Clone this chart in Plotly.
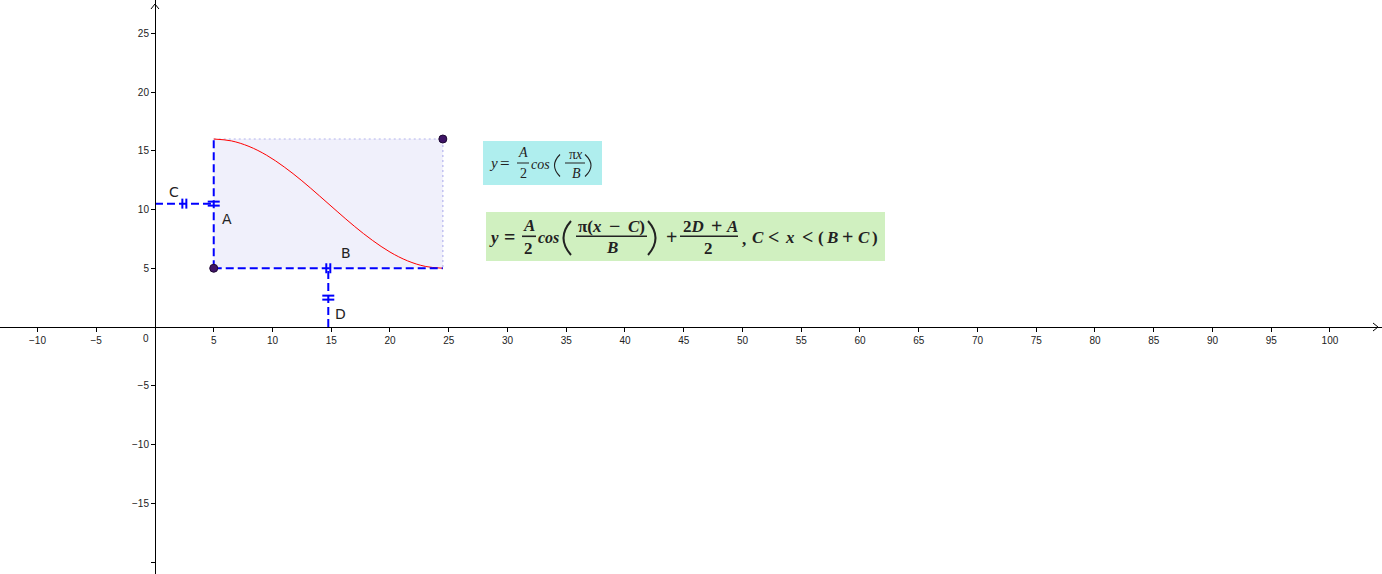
import plotly.graph_objects as go

W, H = 1382, 574

# ---- data ----
A_len = 11.0      # vertical segment A (height of rectangle)
B_len = 19.5      # horizontal segment B (width of rectangle)
C_off = 5.0       # horizontal offset C
D_off = 5.0       # vertical offset D

curve_x = [5, 6.5, 8, 9.5, 11, 12.5, 14, 15.5, 17, 18.5, 20, 21.5, 23, 24.5]
curve_y = [16.0, 15.84, 15.37, 14.62, 13.62, 12.45, 11.16, 9.84, 8.55, 7.38, 6.38, 5.63, 5.16, 5.0]

point_x = [5, 24.5]
point_y = [5, 16]

x_ticks = [-10, -5, 5, 10, 15, 20, 25, 30, 35, 40, 45, 50, 55, 60, 65, 70, 75, 80, 85, 90, 95, 100]
x_tick_text = [("\u2212" + str(-v)) if v < 0 else str(v) for v in x_ticks]
y_ticks = [-20, -15, -10, -5, 5, 10, 15, 20, 25]
y_tick_text = ["", "\u221215", "\u221210", "\u22125", "5", "10", "15", "20", "25"]

seg_labels = ["C", "A", "B", "D"]
label_x = [1.62, 6.13, 16.26, 15.83]
label_y = [11.45, 9.2, 6.3, 1.15]

x_range = [-13.19, 104.43]
y_range = [-21.02, 27.83]

# ---- derived geometry ----
x_left = C_off
x_right = C_off + B_len
y_bot = D_off
y_top = D_off + A_len
y_mid = D_off + A_len / 2
x_mid = C_off + B_len / 2

BLUE = "#0000ff"
DASH = "8px,4px"
INK = "#222222"

fig = go.Figure()

# dotted outline (top and right) of the shaded rectangle
fig.add_trace(go.Scatter(x=[x_left, x_right, x_right], y=[y_top, y_top, y_bot], mode="lines",
                         line=dict(color="#b4b4ee", width=1.2, dash="2px,3px"), hoverinfo="skip"))

# red cosine curve
fig.add_trace(go.Scatter(x=curve_x, y=curve_y, mode="lines",
                         line=dict(color="#ff0000", width=1, shape="spline", smoothing=1), hoverinfo="skip"))

# blue dashed segments C, A, B, D
seg_defs = [
    ([0, x_left], [y_mid, y_mid]),
    ([x_left, x_left], [y_bot, y_top]),
    ([x_left, x_right], [y_bot, y_bot]),
    ([x_mid, x_mid], [0, y_bot]),
]
for sx, sy in seg_defs:
    fig.add_trace(go.Scatter(x=sx, y=sy, mode="lines",
                             line=dict(color=BLUE, width=2, dash=DASH), hoverinfo="skip"))

# points
fig.add_trace(go.Scatter(x=point_x, y=point_y, mode="markers",
                         marker=dict(size=8, color="#3f1466", line=dict(color="#1e0933", width=1)),
                         hoverinfo="skip"))

shapes = []
# shaded rectangle
shapes.append(dict(type="rect", xref="x", yref="y", x0=x_left, x1=x_right, y0=y_bot, y1=y_top,
                   fillcolor="#f0f0fb", line=dict(width=0), layer="below"))

# equal-length tick decorations (double bars) at segment midpoints
def vbars(xc, yc):
    for d in (-2, 2):
        shapes.append(dict(type="line", xref="x", yref="y", xsizemode="pixel", ysizemode="pixel",
                           xanchor=xc, yanchor=yc, x0=d, x1=d, y0=-5, y1=5,
                           line=dict(color=BLUE, width=2)))

def hbars(xc, yc):
    for d in (-2, 2):
        shapes.append(dict(type="line", xref="x", yref="y", xsizemode="pixel", ysizemode="pixel",
                           xanchor=xc, yanchor=yc, x0=-6, x1=6, y0=d, y1=d,
                           line=dict(color=BLUE, width=2)))

vbars(x_left / 2, y_mid)       # C
hbars(x_left, y_mid)           # A
vbars(x_mid, y_bot)            # B
hbars(x_mid, y_bot / 2)        # D

# axis arrow heads
shapes.append(dict(type="path", xref="x", yref="y", xsizemode="pixel", ysizemode="pixel",
                   xanchor=104.09, yanchor=0, path="M -5,-4 L 0,0 L -5,4",
                   line=dict(color="black", width=1)))
shapes.append(dict(type="path", xref="x", yref="y", xsizemode="pixel", ysizemode="pixel",
                   xanchor=0, yanchor=27.49, path="M -4,-5 L 0,0 L 4,-5",
                   line=dict(color="black", width=1)))

annotations = []
for t, lx, ly in zip(seg_labels, label_x, label_y):
    annotations.append(dict(x=lx, y=ly, xref="x", yref="y", text=t, showarrow=False,
                            font=dict(family="DejaVu Sans", size=14, color=INK)))
annotations.append(dict(x=0, y=0, xref="x", yref="y", text="0", showarrow=False,
                        xshift=-9, yshift=-11, font=dict(family="Liberation Sans", size=10, color=INK)))

# ---- formula boxes (math typeset piece by piece, positions in pixels of the page) ----
def fx(p):
    return p / W

def fy(p):
    return 1 - p / H

def box(x0, x1, y0, y1, color):
    shapes.append(dict(type="rect", xref="paper", yref="paper", x0=fx(x0), x1=fx(x1),
                       y0=fy(y1), y1=fy(y0), fillcolor=color, line=dict(width=0), layer="below"))

def bar(x0, x1, yp, w=1.0):
    shapes.append(dict(type="line", xref="paper", yref="paper", x0=fx(x0), x1=fx(x1),
                       y0=fy(yp), y1=fy(yp), line=dict(color=INK, width=w)))

def paren(xa, xb, y0, y1, w=1.0):
    # curved bracket from (xa, y0) bulging to xb and back to (xa, y1)
    ym = (y0 + y1) / 2
    path = "M %.5f,%.5f Q %.5f,%.5f %.5f,%.5f" % (fx(xa), fy(y0), fx(xb), fy(ym), fx(xa), fy(y1))
    shapes.append(dict(type="path", xref="paper", yref="paper", path=path,
                       line=dict(color=INK, width=w)))

def txt(xp, yp, text, size=14, bold=False, italic=False):
    if italic:
        text = "<i>" + text + "</i>"
    if bold:
        text = "<b>" + text + "</b>"
    annotations.append(dict(xref="paper", yref="paper", x=fx(xp), y=fy(yp), text=text,
                            showarrow=False, xanchor="center", yanchor="middle",
                            font=dict(family="Liberation Serif", size=size, color=INK)))

# formula 1
box(483, 602, 141, 185, "#afeeee")
txt(493, 163, "y", 15, italic=True)
txt(505, 163, "=", 17)
txt(523, 152, "A", 14, italic=True)
bar(517, 529, 163)
txt(523.5, 173.5, "2", 14)
txt(540, 164, "cos", 14, italic=True)
paren(560, 549, 154.5, 176.5, 1.1)
txt(575.5, 154, "π<i>x</i>", 14)
bar(565, 585, 163)
txt(576, 173, "B", 14, italic=True)
paren(585, 597, 154.5, 176.5, 1.1)

# formula 2
box(486, 885, 212, 261, "#d0f0c0")
S2 = 17
OP = 20
txt(494.5, 237, "y", S2, True, True)
txt(509, 237, "=", OP, True)
txt(529, 225, "A", S2, True, True)
bar(522, 536, 236.3, 1.6)
txt(528, 248, "2", S2, True)
txt(548, 237, "cos", 16, True, True)
paren(571, 556, 221, 255, 2)
txt(589.5, 226, "π(<i>x</i>", S2, True)
txt(614, 226, "−", OP, True)
txt(636, 226, "<i>C</i>)", S2, True)
bar(576, 647, 236.3, 1.6)
txt(611.5, 247, "B", S2, True, True)
paren(648, 663, 221, 255, 2)
txt(671.5, 237, "+", OP, True)
txt(693, 226, "2<i>D</i>", S2, True)
txt(716, 226, "+", OP, True)
txt(732, 226, "A", S2, True, True)
bar(680, 738, 236.3, 1.6)
txt(709, 248, "2", S2, True)
txt(743.5, 239, ",", S2, True)
txt(757.5, 237, "C", S2, True, True)
txt(774, 237, "&lt;", OP, True)
txt(790, 238, "x", S2, True, True)
txt(807.5, 237, "&lt;", OP, True)
txt(820.5, 237, "(", S2, True)
txt(831.5, 237, "B", S2, True, True)
txt(847.5, 237, "+", OP, True)
txt(863.5, 237, "C", S2, True, True)
txt(874.5, 237, ")", S2, True)

x_pos = (0 - y_range[0]) / (y_range[1] - y_range[0])
y_pos = (0 - x_range[0]) / (x_range[1] - x_range[0])

fig.update_layout(
    width=W, height=H, autosize=False,
    margin=dict(l=0, r=0, t=0, b=0),
    paper_bgcolor="white", plot_bgcolor="white",
    showlegend=False, hovermode=False,
    shapes=shapes, annotations=annotations,
    xaxis=dict(range=x_range, domain=[0, 1], anchor="free", position=x_pos,
               showgrid=False, zeroline=False, showline=True, linecolor="black", linewidth=1,
               tickmode="array", tickvals=x_ticks, ticktext=x_tick_text,
               ticks="outside", ticklen=4, tickwidth=1, tickcolor="black",
               tickfont=dict(family="Liberation Sans", size=10, color=INK), fixedrange=True),
    yaxis=dict(range=y_range, domain=[0, 1], anchor="free", position=y_pos,
               showgrid=False, zeroline=False, showline=True, linecolor="black", linewidth=1,
               tickmode="array", tickvals=y_ticks, ticktext=y_tick_text,
               ticks="outside", ticklen=4, tickwidth=1, tickcolor="black",
               tickfont=dict(family="Liberation Sans", size=10, color=INK), fixedrange=True),
)

fig.write_html("out.html", config={"displayModeBar": False},
               post_script="document.body.style.margin='0';document.body.style.overflow='hidden';")
